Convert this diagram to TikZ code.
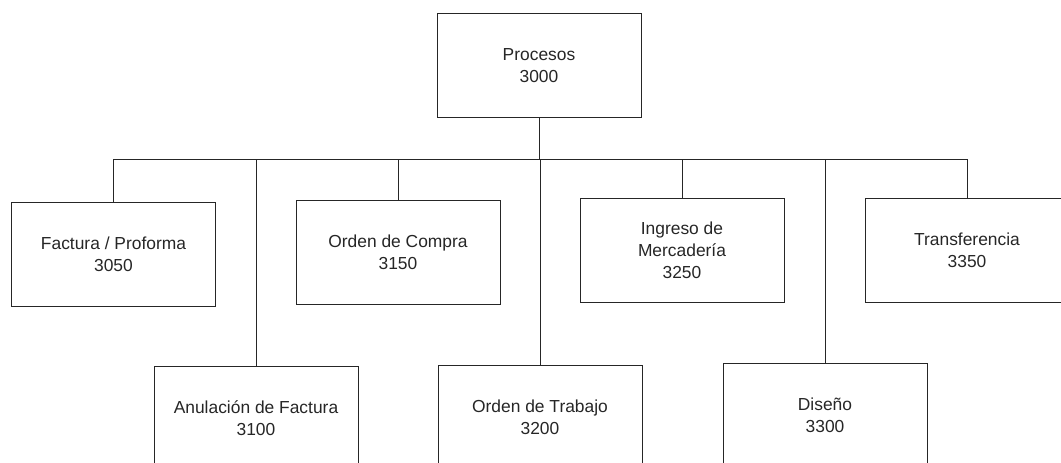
\documentclass[tikz,border=0pt]{standalone}
\usepackage{fontspec}
\setmainfont{Liberation Sans}
\begin{document}
\begin{tikzpicture}[x=1pt,y=-1pt,
  box/.style={draw=black!85, line width=0.9pt, rectangle, minimum width=204pt, minimum height=104pt,
    inner sep=0pt, align=center, font=\fontsize{17.4}{22}\selectfont, text=black!85},
  conn/.style={draw=black!85, line width=0.9pt}]
\useasboundingbox (0,0) rectangle (1061,463);
\clip (0,0) rectangle (1061,463);
\node[box] (root) at (539,65.5) {Procesos\\3000};
\node[box] (f) at (113.5,254) {Factura / Proforma\\3050};
\node[box] (c) at (398,252) {Orden de Compra\\3150};
\node[box] (i) at (682,250.5) {Ingreso de\\Mercadería\\3250};
\node[box] (t) at (967,250) {Transferencia\\3350};
\node[box] (a) at (256,418) {Anulación de Factura\\3100};
\node[box] (o) at (540,417) {Orden de Trabajo\\3200};
\node[box] (d) at (825,415) {Diseño\\3300};
\coordinate (bl) at (113,159);
\coordinate (br) at (967,159);
\draw[conn] (bl) -- (br);
\draw[conn] (root.south) -- (root.south |- bl);
\foreach \n in {f,c,i,t,a,o,d}{
  \draw[conn] (\n.north) -- (\n.north |- bl);
}
\end{tikzpicture}
\end{document}
